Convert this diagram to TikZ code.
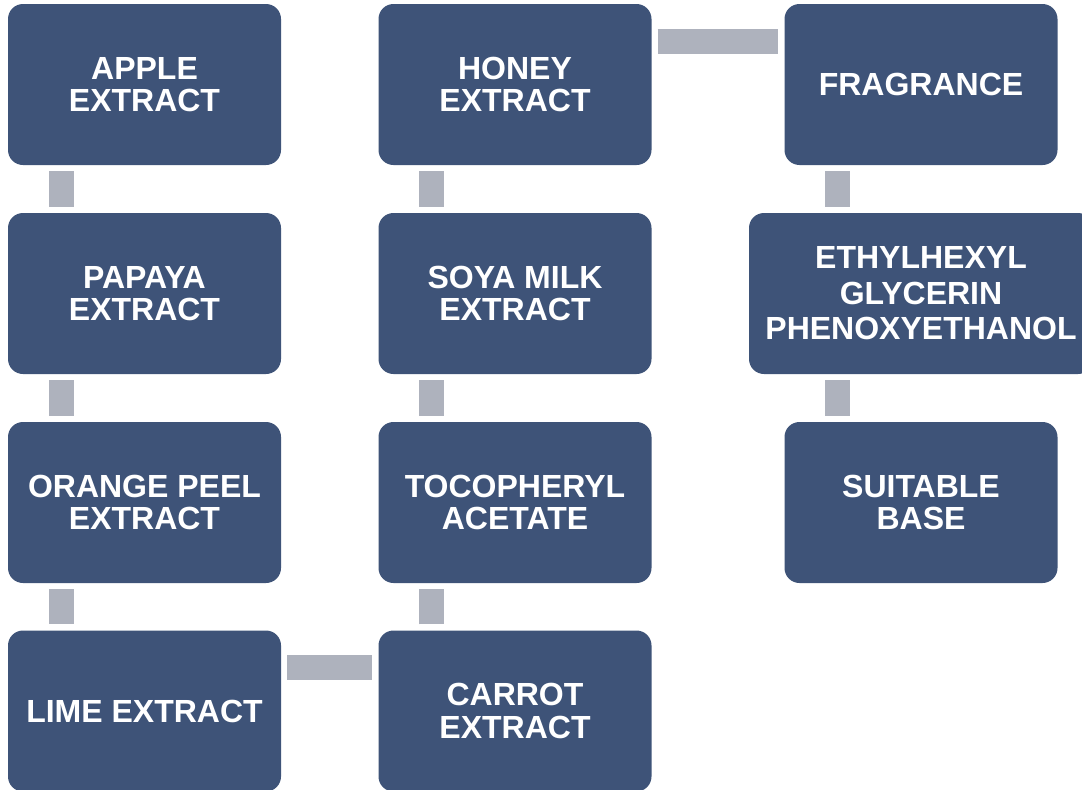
\documentclass[tikz,border=0pt]{standalone}
\usepackage{fontspec}
\setmainfont{Liberation Sans}
\usetikzlibrary{calc}
\definecolor{boxblue}{HTML}{3E5378}
\definecolor{bargray}{HTML}{AEB2BD}
\tikzset{
  ingr/.style={rectangle, rounded corners=15pt, fill=boxblue, text=white,
    minimum width=273pt, minimum height=161pt, inner sep=0pt, align=center,
    font=\fontsize{32}{32.5}\selectfont\bfseries},
  wideingr/.style={ingr, minimum width=344pt, font=\fontsize{32}{35.5}\selectfont\bfseries},
  conn/.style={draw=bargray, line width=25pt, shorten <=6pt, shorten >=6pt}
}
\begin{document}
\begin{tikzpicture}[x=1pt,y=1pt]
\useasboundingbox (0,0) rectangle (1082,-790);
\clip (0,0) rectangle (1082,-790);
\fill[white] (0,0) rectangle (1082,-790);
% column 1
\node[ingr] (apple)  at (144.5,-84.5) {APPLE\\EXTRACT};
\node[ingr] (papaya) at (144.5,-293.5) {PAPAYA\\EXTRACT};
\node[ingr] (orange) at (144.5,-502.5) {ORANGE PEEL\\EXTRACT};
\node[ingr] (lime)   at (144.5,-711) {LIME EXTRACT};
% column 2
\node[ingr] (honey)  at (515,-84.5) {HONEY\\EXTRACT};
\node[ingr] (soya)   at (515,-293.5) {SOYA MILK\\EXTRACT};
\node[ingr] (toco)   at (515,-502.5) {TOCOPHERYL\\ACETATE};
\node[ingr] (carrot) at (515,-711) {CARROT\\EXTRACT};
% column 3
\node[ingr] (frag)   at (921,-84.5) {FRAGRANCE};
\node[wideingr] (ethyl) at (921,-293.5) {ETHYLHEXYL\\GLYCERIN\\PHENOXYETHANOL};
\node[ingr] (base)   at (921,-502.5) {SUITABLE\\BASE};
% connectors column 1
\draw[conn] ([xshift=53.5pt]apple.south west) -- ([xshift=53.5pt]papaya.north west);
\draw[conn] ([xshift=53.5pt]papaya.south west) -- ([xshift=53.5pt]orange.north west);
\draw[conn] ([xshift=53.5pt]orange.south west) -- ([xshift=53.5pt]lime.north west);
% lime to carrot
\draw[conn] ([yshift=-37.5pt]lime.north east) -- ([yshift=-37.5pt]lime.north east -| carrot.west);
% column 2 (upwards)
\draw[conn] ([xshift=53.5pt]carrot.north west) -- ([xshift=53.5pt]toco.south west);
\draw[conn] ([xshift=53.5pt]toco.north west) -- ([xshift=53.5pt]soya.south west);
\draw[conn] ([xshift=53.5pt]soya.north west) -- ([xshift=53.5pt]honey.south west);
% honey to fragrance
\draw[conn] ([yshift=-38pt]honey.north east) -- ([yshift=-38pt]honey.north east -| frag.west);
% column 3
\draw[conn] ([xshift=53.5pt]frag.south west) -- ([xshift=53.5pt]frag.south west |- ethyl.north);
\draw[conn] ([xshift=53.5pt]base.north west |- ethyl.south) -- ([xshift=53.5pt]base.north west);
\end{tikzpicture}
\end{document}
